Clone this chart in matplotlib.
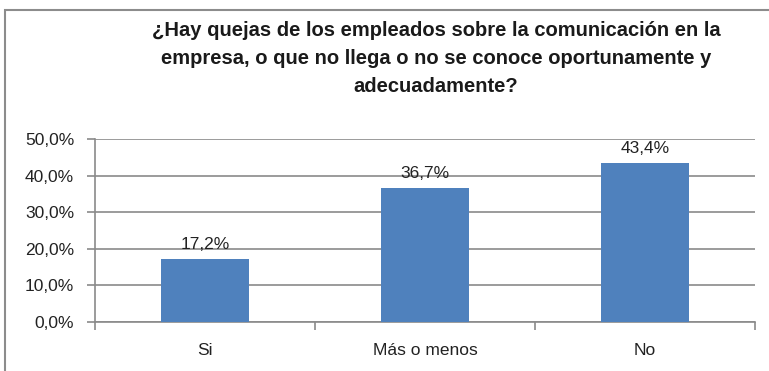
import matplotlib
matplotlib.use("Agg")
import matplotlib.pyplot as plt
from matplotlib.patches import Rectangle
from matplotlib.ticker import FuncFormatter, FixedLocator
import numpy as np

categories = ["Si", "Más o menos", "No"]
values = [17.2, 36.7, 43.4]
y_ticks = [0, 10, 20, 30, 40, 50]
title = ("¿Hay quejas de los empleados sobre la comunicación en la\n"
         "empresa, o que no llega o no se conoce oportunamente y\n"
         "adecuadamente?")

W, H = 769, 371
fig = plt.figure(figsize=(W / 100, H / 100), dpi=100)
fig.patch.set_facecolor("white")

# outer chart frame
fig.patches.append(Rectangle((5 / W, -0.1), 1.2, 1 - 10 / H + 0.1,
                             transform=fig.transFigure, fill=False,
                             edgecolor="#8c8c8c", linewidth=1.5))

ax = fig.add_axes([95 / W, 1 - 322 / H, (755 - 95) / W, (322 - 139) / H])
x = np.arange(len(categories))
ax.bar(x, values, width=0.4, color="#4F81BD", zorder=3)

ax.set_xlim(-0.5, len(categories) - 0.5)
ax.set_ylim(0, 50)
ax.set_yticks(y_ticks)
ax.yaxis.set_major_formatter(FuncFormatter(lambda v, p: f"{v:.1f}%".replace(".", ",")))
ax.grid(axis="y", color="#8a8a8a", linewidth=1.2, zorder=0)

ax.xaxis.set_major_locator(FixedLocator(x))
ax.xaxis.set_minor_locator(FixedLocator(np.arange(len(categories) + 1) - 0.5))
ax.set_xticklabels(categories)
ax.tick_params(axis="x", which="major", length=0, pad=15)
ax.tick_params(axis="x", which="minor", length=6, color="#8a8a8a", width=1.2)
ax.tick_params(axis="y", length=6, color="#8a8a8a", width=1.2, pad=9)

font = "Liberation Sans"
fs = 12.5
for lab in ax.get_xticklabels() + ax.get_yticklabels():
    lab.set_fontfamily(font)
    lab.set_fontsize(fs)
    lab.set_color("#222222")

for s in ["top", "right"]:
    ax.spines[s].set_visible(False)
for s in ["left", "bottom"]:
    ax.spines[s].set_color("#8a8a8a")
    ax.spines[s].set_linewidth(1.2)

for xi, v in zip(x, values):
    ax.annotate(f"{v:.1f}%".replace(".", ","), (xi, v), xytext=(0, 5),
                textcoords="offset points", ha="center", va="bottom",
                fontsize=fs, family=font, color="#222222")

fig.text(436 / W, 1 - 21 / H, title, ha="center", va="top",
         fontsize=14.5, fontweight="bold", family=font,
         linespacing=1.6, color="#1a1a1a")

fig.savefig("out.png", dpi=100)
